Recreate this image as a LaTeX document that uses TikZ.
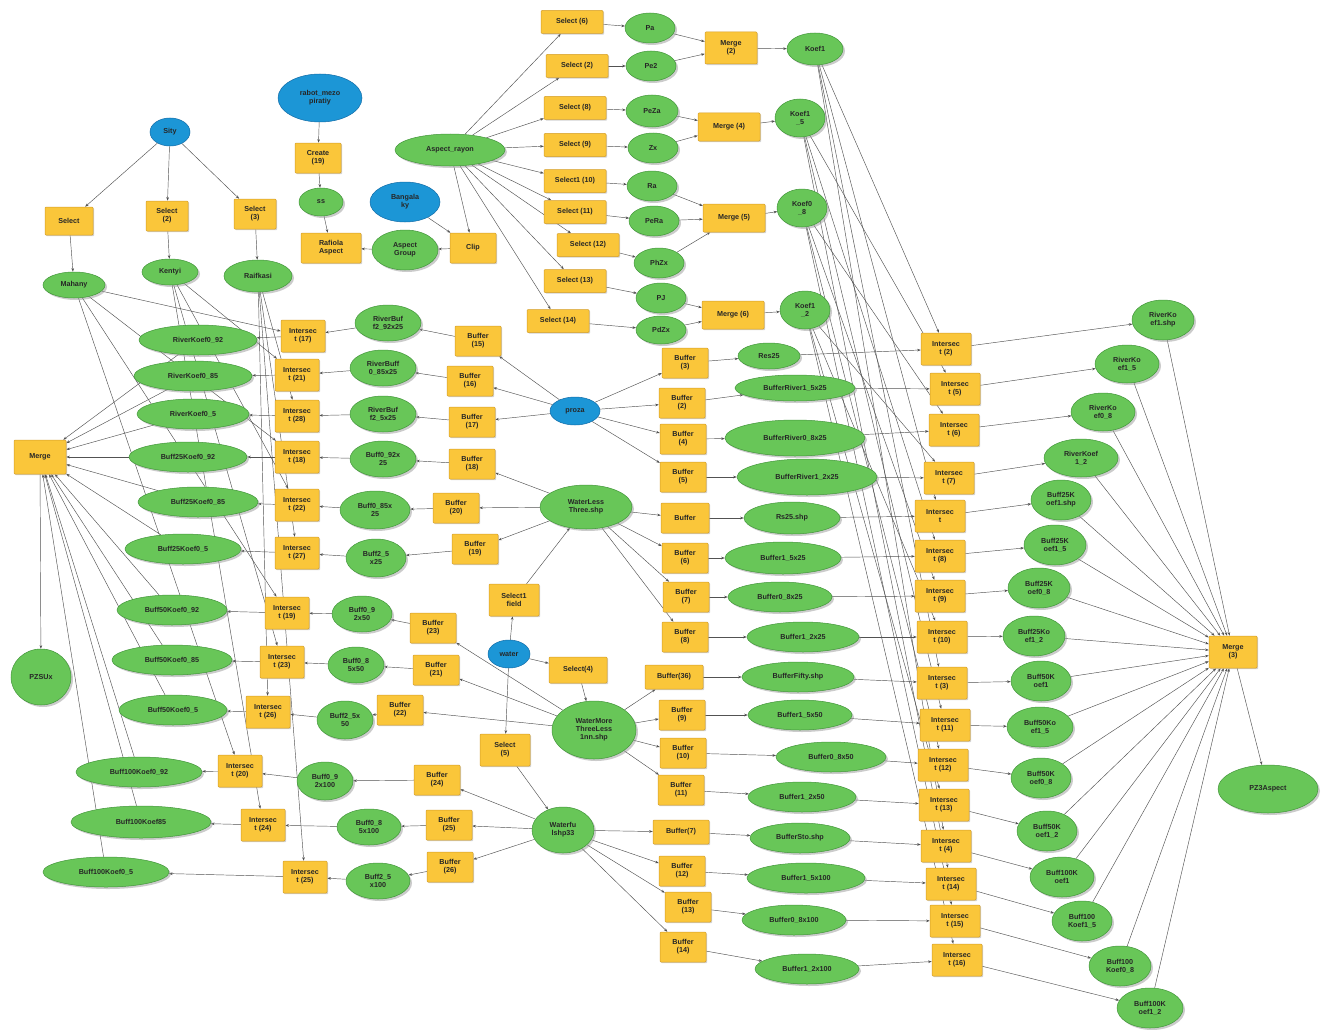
\documentclass[tikz,border=0pt]{standalone}
\usepackage{fontspec}
\setmainfont{Liberation Sans}
\usetikzlibrary{shapes.geometric,arrows.meta,backgrounds,shadows}
\definecolor{tyel}{RGB}{250,198,58}
\definecolor{tyelb}{RGB}{212,158,40}
\definecolor{dgrn}{RGB}{104,198,88}
\definecolor{dgrnb}{RGB}{66,150,58}
\definecolor{iblu}{RGB}{28,150,214}
\definecolor{iblub}{RGB}{18,108,168}
\tikzset{
 nfont/.style={font=\fontsize{7.2}{7.9}\selectfont\bfseries, text=black!85},
 tool/.style={nfont, rectangle, rounded corners=1pt, fill=tyel, draw=tyelb, line width=0.5pt,
   minimum width=46pt, minimum height=30pt, inner sep=1pt, align=center,
   drop shadow={shadow xshift=1.2pt, shadow yshift=-1.2pt, fill=black!35, opacity=0.5}},
 seltool/.style={tool, minimum width=62pt, minimum height=23pt},
 data/.style={nfont, ellipse, fill=dgrn, draw=dgrnb, line width=0.5pt,
   minimum width=50pt, minimum height=30pt, inner sep=0pt, align=center,
   drop shadow={shadow xshift=2pt, shadow yshift=-2pt, fill=black!40, opacity=0.5}},
 inp/.style={nfont, ellipse, fill=iblu, draw=iblub, line width=0.5pt,
   minimum width=44pt, minimum height=28pt, inner sep=0pt, align=center},
 conn/.style={draw=black!68, line width=0.45pt, -{Stealth[length=3.6pt,width=2.6pt]}}
}
\begin{document}
\begin{tikzpicture}[x=1pt,y=-1pt]
\useasboundingbox (0,0) rectangle (1327,1030);

% ---------- top left ----------
\node[inp, minimum width=40pt] (sity) at (170,132) {Sity};
\node[tool, minimum width=48pt, minimum height=28pt] (sel) at (69,221) {Select};
\node[tool, minimum width=42pt] (sela) at (167,216) {Select\\(2)};
\node[tool, minimum width=42pt] (selb) at (255,214) {Select\\(3)};
\node[data, minimum width=62pt, minimum height=26pt] (mah) at (74,285) {Mahany};
\node[data, minimum width=56pt, minimum height=26pt] (ken) at (170,272) {Kentyi};
\node[data, minimum width=68pt, minimum height=32pt] (raif) at (258,276) {Raifkasi};

\node[inp, minimum width=84pt, minimum height=48pt] (rabot) at (320,98) {rabot\_mezo\\piratiy};
\node[tool] (cr) at (318,158) {Create\\(19)};
\node[data, minimum width=44pt, minimum height=28pt] (ss) at (321,202) {ss};
\node[tool, minimum width=60pt] (rafasp) at (331,248) {Rafiola\\Aspect};
\node[data, minimum width=66pt, minimum height=40pt] (agrp) at (405,250) {Aspect\\Group};
\node[inp, minimum width=70pt, minimum height=40pt] (beng) at (405,202) {Bangala\\ky};
\node[tool] (clip) at (473,248) {Clip};
\node[data, minimum width=110pt, minimum height=32pt] (arayon) at (450,150) {Aspect\_rayon};

% ---------- selects ----------
\node[seltool] (s6) at (572,22) {Select (6)};
\node[seltool] (s2) at (577,66) {Select (2)};
\node[seltool] (s8) at (575,108) {Select (8)};
\node[seltool] (s9) at (575,145) {Select (9)};
\node[seltool] (s10) at (575,181) {Select1 (10)};
\node[seltool] (s11) at (575,212) {Select (11)};
\node[seltool] (s12) at (588,245) {Select (12)};
\node[seltool] (s13) at (575,281) {Select (13)};
\node[seltool] (s14) at (558,321) {Select (14)};

\node[data] (pa) at (650,28) {Pa};
\node[data] (pe2) at (651,66) {Pe2};
\node[data, minimum width=52pt, minimum height=32pt] (peza) at (652,111) {PeZa};
\node[data] (zx) at (653,148) {Zx};
\node[data] (ra) at (652,186) {Ra};
\node[data] (pera) at (654,221) {PeRa};
\node[data] (phzx) at (659,263) {PhZx};
\node[data] (pj) at (661,298) {PJ};
\node[data, minimum height=28pt] (pdzx) at (661,330) {PdZx};

\node[tool, minimum width=52pt, minimum height=32pt] (mtwo) at (731,48) {Merge\\(2)};
\node[tool, minimum width=62pt, minimum height=28pt] (mfour) at (729,127) {Merge (4)};
\node[tool, minimum width=62pt, minimum height=28pt] (mfive) at (734,218) {Merge (5)};
\node[tool, minimum width=62pt, minimum height=28pt] (msix) at (733,315) {Merge (6)};

\node[data, minimum width=56pt, minimum height=32pt] (ka) at (815,49) {Koef1};
\node[data, minimum width=50pt, minimum height=38pt] (kb) at (800,118) {Koef1\\\_5};
\node[data, minimum width=50pt, minimum height=38pt] (kc) at (802,208) {Koef0\\\_8};
\node[data, minimum width=50pt, minimum height=38pt] (kd) at (805,310) {Koef1\\\_2};

% ---------- left ----------
\node[tool, minimum width=52pt, minimum height=34pt] (lmerge) at (40,457) {Merge};
\node[data, minimum width=60pt, minimum height=56pt] (pzsux) at (41,677) {PZSUx};

\node[data, minimum width=118pt] (le1) at (198,340) {RiverKoef0\_92};
\node[data, minimum width=118pt] (le2) at (193,376) {RiverKoef0\_85};
\node[data, minimum width=112pt] (le3) at (193,414) {RiverKoef0\_5};
\node[data, minimum width=118pt] (le4) at (188,457) {Buff25Koef0\_92};
\node[data, minimum width=120pt] (le5) at (198,502) {Buff25Koef0\_85};
\node[data, minimum width=116pt] (le6) at (183,549) {Buff25Koef0\_5};
\node[data, minimum width=110pt] (le7) at (172,610) {Buff50Koef0\_92};
\node[data, minimum width=120pt] (le8) at (172,660) {Buff50Koef0\_85};
\node[data, minimum width=108pt] (le9) at (173,710) {Buff50Koef0\_5};
\node[data, minimum width=126pt] (le10) at (139,772) {Buff100Koef0\_92};
\node[data, minimum width=140pt, minimum height=32pt] (le11) at (141,822) {Buff100Koef85};
\node[data, minimum width=126pt] (le12) at (106,872) {Buff100Koef0\_5};

\node[tool, minimum width=44pt, minimum height=32pt] (i17) at (303,336) {Intersec\\t (17)};
\node[tool, minimum width=44pt, minimum height=32pt] (i21) at (297,375) {Intersec\\t (21)};
\node[tool, minimum width=44pt, minimum height=32pt] (i28) at (297,416) {Intersec\\t (28)};
\node[tool, minimum width=44pt, minimum height=32pt] (i18) at (297,457) {Intersec\\t (18)};
\node[tool, minimum width=44pt, minimum height=32pt] (i22) at (297,505) {Intersec\\t (22)};
\node[tool, minimum width=44pt, minimum height=32pt] (i27) at (297,553) {Intersec\\t (27)};
\node[tool, minimum width=44pt, minimum height=32pt] (i19) at (287,613) {Intersec\\t (19)};
\node[tool, minimum width=44pt, minimum height=32pt] (i23) at (282,662) {Intersec\\t (23)};
\node[tool, minimum width=44pt, minimum height=32pt] (i26) at (268,712) {Intersec\\t (26)};
\node[tool, minimum width=44pt, minimum height=32pt] (i20) at (240,771) {Intersec\\t (20)};
\node[tool, minimum width=44pt, minimum height=32pt] (i24) at (263,825) {Intersec\\t (24)};
\node[tool, minimum width=44pt, minimum height=32pt] (i25) at (305,877) {Intersec\\t (25)};

\node[data, minimum width=66pt, minimum height=36pt] (mb1) at (388,323) {RiverBuf\\f2\_92x25};
\node[data, minimum width=66pt, minimum height=36pt] (mb2) at (383,368) {RiverBuff\\0\_85x25};
\node[data, minimum width=66pt, minimum height=36pt] (mb3) at (383,414) {RiverBuf\\f2\_5x25};
\node[data, minimum width=66pt, minimum height=36pt] (mb4) at (383,459) {Buff0\_92x\\25};
\node[data, minimum width=70pt, minimum height=38pt] (mb5) at (375,510) {Buff0\_85x\\25};
\node[data, minimum width=60pt, minimum height=38pt] (mb6) at (376,558) {Buff2\_5\\x25};
\node[data, minimum width=60pt, minimum height=36pt] (mb7) at (362,614) {Buff0\_9\\2x50};
\node[data, minimum width=56pt, minimum height=36pt] (mb8) at (356,665) {Buff0\_8\\5x50};
\node[data, minimum width=56pt, minimum height=38pt] (mb9) at (345,720) {Buff2\_5x\\50};
\node[data, minimum width=56pt, minimum height=38pt] (mb10) at (325,781) {Buff0\_9\\2x100};
\node[data, minimum width=64pt, minimum height=36pt] (mb11) at (369,827) {Buff0\_8\\5x100};
\node[data, minimum width=64pt, minimum height=36pt] (mb12) at (378,881) {Buff2\_5\\x100};

\node[tool] (b15) at (478,341) {Buffer\\(15)};
\node[tool] (b16) at (470,381) {Buffer\\(16)};
\node[tool] (b17) at (472,422) {Buffer\\(17)};
\node[tool] (b18) at (472,464) {Buffer\\(18)};
\node[tool] (b20) at (456,508) {Buffer\\(20)};
\node[tool] (b19) at (475,549) {Buffer\\(19)};
\node[tool] (b23) at (433,628) {Buffer\\(23)};
\node[tool] (b21) at (436,670) {Buffer\\(21)};
\node[tool] (b22) at (400,710) {Buffer\\(22)};
\node[tool] (b24) at (437,780) {Buffer\\(24)};
\node[tool] (b25) at (449,825) {Buffer\\(25)};
\node[tool] (b26) at (450,867) {Buffer\\(26)};

% ---------- center ----------
\node[inp, minimum width=50pt] (proza) at (575,411) {proza};
\node[inp, minimum width=42pt] (water) at (509,654) {water};
\node[tool, minimum width=50pt, minimum height=32pt] (sel1f) at (514,600) {Select1\\field};
\node[tool, minimum width=58pt, minimum height=26pt] (sel4) at (578,670) {Select(4)};
\node[tool, minimum width=50pt, minimum height=32pt] (sel5) at (505,750) {Select\\(5)};
\node[data, minimum width=92pt, minimum height=44pt] (wless) at (586,507) {WaterLess\\Three.shp};
\node[data, minimum width=84pt, minimum height=58pt] (wmore) at (594,730) {WaterMore\\ThreeLess\\1nn.shp};
\node[data, minimum width=62pt, minimum height=46pt] (wfu) at (563,830) {Waterfu\\lshp33};

% ---------- right buffers ----------
\node[tool] (rb3) at (685,363) {Buffer\\(3)};
\node[tool] (rb2) at (682,403) {Buffer\\(2)};
\node[tool] (rb4) at (683,439) {Buffer\\(4)};
\node[tool] (rb5) at (683,477) {Buffer\\(5)};
\node[tool, minimum width=48pt] (rb0) at (685,518) {Buffer};
\node[tool] (rb6) at (685,558) {Buffer\\(6)};
\node[tool] (rb7) at (686,597) {Buffer\\(7)};
\node[tool] (rb8) at (685,637) {Buffer\\(8)};
\node[tool, minimum width=58pt, minimum height=24pt] (rb36) at (674,677) {Buffer(36)};
\node[tool] (rb9) at (682,715) {Buffer\\(9)};
\node[tool] (rb10) at (683,753) {Buffer\\(10)};
\node[tool] (rb11) at (681,790) {Buffer\\(11)};
\node[tool, minimum width=56pt, minimum height=24pt] (rb7b) at (681,832) {Buffer(7)};
\node[tool] (rb12) at (682,871) {Buffer\\(12)};
\node[tool] (rb13) at (688,907) {Buffer\\(13)};
\node[tool] (rb14) at (683,947) {Buffer\\(14)};

\node[data, minimum width=62pt, minimum height=26pt] (re1) at (769,356) {Res25};
\node[data, minimum width=120pt, minimum height=26pt] (re2) at (795,388) {BufferRiver1\_5x25};
\node[data, minimum width=140pt, minimum height=36pt] (re3) at (795,438) {BufferRiver0\_8x25};
\node[data, minimum width=140pt, minimum height=36pt] (re4) at (807,477) {BufferRiver1\_2x25};
\node[data, minimum width=96pt, minimum height=32pt] (re5) at (792,518) {Rs25.shp};
\node[data, minimum width=116pt, minimum height=32pt] (re6) at (783,558) {Buffer1\_5x25};
\node[data, minimum width=104pt] (re7) at (780,597) {Buffer0\_8x25};
\node[data, minimum width=112pt] (re8) at (803,637) {Buffer1\_2x25};
\node[data, minimum width=112pt] (re9) at (798,677) {BufferFifty.shp};
\node[data, minimum width=104pt] (re10) at (800,715) {Buffer1\_5x50};
\node[data, minimum width=110pt] (re11) at (831,757) {Buffer0\_8x50};
\node[data, minimum width=108pt] (re12) at (802,797) {Buffer1\_2x50};
\node[data, minimum width=100pt] (re13) at (800,838) {BufferSto.shp};
\node[data, minimum width=118pt] (re14) at (806,878) {Buffer1\_5x100};
\node[data, minimum width=104pt] (re15) at (794,920) {Buffer0\_8x100};
\node[data, minimum width=104pt] (re16) at (807,969) {Buffer1\_2x100};

\node[tool, minimum width=50pt, minimum height=32pt] (ri2) at (946,349) {Intersec\\t (2)};
\node[tool, minimum width=50pt, minimum height=32pt] (ri5) at (955,389) {Intersec\\t (5)};
\node[tool, minimum width=50pt, minimum height=32pt] (ri6) at (954,430) {Intersec\\t (6)};
\node[tool, minimum width=50pt, minimum height=32pt] (ri7) at (949,478) {Intersec\\t (7)};
\node[tool, minimum width=50pt, minimum height=32pt] (ri0) at (940,516) {Intersec\\t};
\node[tool, minimum width=50pt, minimum height=32pt] (ri8) at (940,556) {Intersec\\t (8)};
\node[tool, minimum width=50pt, minimum height=32pt] (ri9) at (940,596) {Intersec\\t (9)};
\node[tool, minimum width=50pt, minimum height=32pt] (ri10) at (942,637) {Intersec\\t (10)};
\node[tool, minimum width=50pt, minimum height=32pt] (ri3) at (942,683) {Intersec\\t (3)};
\node[tool, minimum width=50pt, minimum height=32pt] (ri11) at (945,725) {Intersec\\t (11)};
\node[tool, minimum width=50pt, minimum height=32pt] (ri12) at (943,765) {Intersec\\t (12)};
\node[tool, minimum width=50pt, minimum height=32pt] (ri13) at (944,805) {Intersec\\t (13)};
\node[tool, minimum width=50pt, minimum height=32pt] (ri4) at (946,846) {Intersec\\t (4)};
\node[tool, minimum width=50pt, minimum height=32pt] (ri14) at (951,884) {Intersec\\t (14)};
\node[tool, minimum width=50pt, minimum height=32pt] (ri15) at (955,921) {Intersec\\t (15)};
\node[tool, minimum width=50pt, minimum height=32pt] (ri16) at (957,960) {Intersec\\t (16)};

\node[data, minimum width=62pt, minimum height=40pt] (o1) at (1163,320) {RiverKo\\ef1.shp};
\node[data, minimum width=64pt, minimum height=38pt] (o2) at (1127,364) {RiverKo\\ef1\_5};
\node[data, minimum width=64pt, minimum height=38pt] (o3) at (1103,412) {RiverKo\\ef0\_8};
\node[data, minimum width=74pt, minimum height=38pt] (o4) at (1081,458) {RiverKoef\\1\_2};
\node[data, minimum width=60pt, minimum height=40pt] (o5) at (1061,500) {Buff25K\\oef1.shp};
\node[data, minimum width=62pt, minimum height=40pt] (o6) at (1055,545) {Buff25K\\oef1\_5};
\node[data, minimum width=62pt, minimum height=40pt] (o7) at (1039,588) {Buff25K\\oef0\_8};
\node[data, minimum width=62pt, minimum height=40pt] (o8) at (1034,636) {Buff25Ko\\ef1\_2};
\node[data, minimum width=60pt, minimum height=40pt] (o9) at (1041,681) {Buff50K\\oef1};
\node[data, minimum width=66pt, minimum height=40pt] (o10) at (1040,727) {Buff50Ko\\ef1\_5};
\node[data, minimum width=60pt, minimum height=40pt] (o11) at (1041,778) {Buff50K\\oef0\_8};
\node[data, minimum width=60pt, minimum height=40pt] (o12) at (1047,831) {Buff50K\\oef1\_2};
\node[data, minimum width=64pt, minimum height=40pt] (o13) at (1062,877) {Buff100K\\oef1};
\node[data, minimum width=60pt, minimum height=40pt] (o14) at (1082,921) {Buff100\\Koef1\_5};
\node[data, minimum width=62pt, minimum height=40pt] (o15) at (1120,966) {Buff100\\Koef0\_8};
\node[data, minimum width=66pt, minimum height=40pt] (o16) at (1150,1008) {Buff100K\\oef1\_2};

\node[tool, minimum width=48pt, minimum height=32pt] (mthree) at (1233,652) {Merge\\(3)};
\node[data, minimum width=100pt, minimum height=48pt] (pzasp) at (1268,789) {PZ3Aspect};

% ---------- connectors ----------
\begin{scope}[on background layer]
\fill[white] (0,0) rectangle (1327,1030);
\foreach \a/\b in {sity/sel, sity/sela, sity/selb, sel/mah, sela/ken, selb/raif,
  rabot/cr, cr/ss, ss/rafasp, agrp/rafasp, clip/agrp, beng/clip, arayon/clip,
  arayon/s6, arayon/s2, arayon/s8, arayon/s9, arayon/s10, arayon/s11, arayon/s12, arayon/s13, arayon/s14,
  s6/pa, s2/pe2, s8/peza, s9/zx, s10/ra, s11/pera, s12/phzx, s13/pj, s14/pdzx,
  pa/mtwo, pe2/mtwo, peza/mfour, zx/mfour, ra/mfive, pera/mfive, phzx/mfive, pj/msix, pdzx/msix,
  mtwo/ka, mfour/kb, mfive/kc, msix/kd,
  ka/ri2, ka/ri0, ka/ri3, ka/ri4, kb/ri5, kb/ri8, kb/ri11, kb/ri14,
  kc/ri6, kc/ri9, kc/ri12, kc/ri15, kd/ri7, kd/ri10, kd/ri13, kd/ri16,
  mah/i17, mah/i18, mah/i19, mah/i20, ken/i21, ken/i22, ken/i23, ken/i24,
  raif/i28, raif/i27, raif/i26, raif/i25,
  mb1/i17, mb2/i21, mb3/i28, mb4/i18, mb5/i22, mb6/i27, mb7/i19, mb8/i23, mb9/i26, mb10/i20, mb11/i24, mb12/i25,
  i17/le1, i21/le2, i28/le3, i18/le4, i22/le5, i27/le6, i19/le7, i23/le8, i26/le9, i20/le10, i24/le11, i25/le12,
  le1/lmerge, le2/lmerge, le3/lmerge, le4/lmerge, le5/lmerge, le6/lmerge, le7/lmerge, le8/lmerge, le9/lmerge, le10/lmerge, le11/lmerge, le12/lmerge,
  lmerge/pzsux,
  proza/b15, proza/b16, proza/b17, b15/mb1, b16/mb2, b17/mb3,
  wless/b18, wless/b20, wless/b19, b18/mb4, b20/mb5, b19/mb6,
  wmore/b23, wmore/b21, wmore/b22, b23/mb7, b21/mb8, b22/mb9,
  wfu/b24, wfu/b25, wfu/b26, b24/mb10, b25/mb11, b26/mb12,
  proza/rb3, proza/rb2, proza/rb4, proza/rb5,
  wless/rb0, wless/rb6, wless/rb7, wless/rb8,
  wmore/rb36, wmore/rb9, wmore/rb10, wmore/rb11,
  wfu/rb7b, wfu/rb12, wfu/rb13, wfu/rb14,
  water/sel1f, water/sel4, water/sel5, sel1f/wless, sel4/wmore, sel5/wfu,
  rb3/re1, rb2/re2, rb4/re3, rb5/re4, rb0/re5, rb6/re6, rb7/re7, rb8/re8,
  rb36/re9, rb9/re10, rb10/re11, rb11/re12, rb7b/re13, rb12/re14, rb13/re15, rb14/re16,
  re1/ri2, re2/ri5, re3/ri6, re4/ri7, re5/ri0, re6/ri8, re7/ri9, re8/ri10,
  re9/ri3, re10/ri11, re11/ri12, re12/ri13, re13/ri4, re14/ri14, re15/ri15, re16/ri16,
  ri2/o1, ri5/o2, ri6/o3, ri7/o4, ri0/o5, ri8/o6, ri9/o7, ri10/o8,
  ri3/o9, ri11/o10, ri12/o11, ri13/o12, ri4/o13, ri14/o14, ri15/o15, ri16/o16,
  o1/mthree, o2/mthree, o3/mthree, o4/mthree, o5/mthree, o6/mthree, o7/mthree, o8/mthree,
  o9/mthree, o10/mthree, o11/mthree, o12/mthree, o13/mthree, o14/mthree, o15/mthree, o16/mthree,
  mthree/pzasp}
  \draw[conn] (\a) -- (\b);
\end{scope}
\end{tikzpicture}
\end{document}
